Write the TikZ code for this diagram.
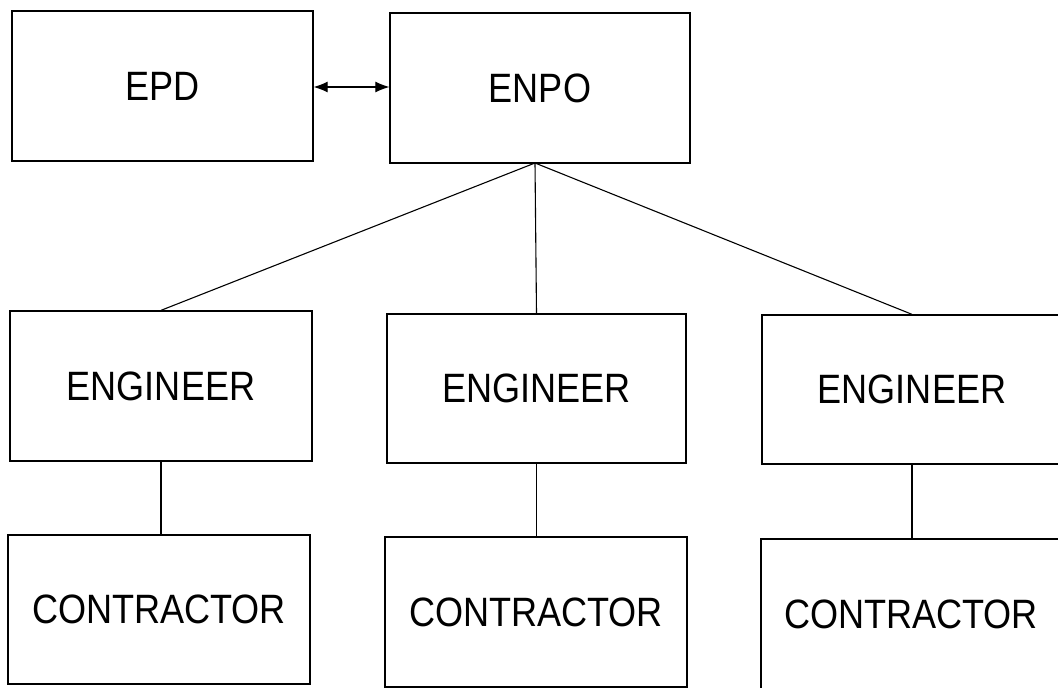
\documentclass[tikz,border=0pt]{standalone}
\usepackage{fontspec}
\setmainfont{Liberation Sans}[FakeStretch=0.88]
\usetikzlibrary{arrows.meta}
\begin{document}
\begin{tikzpicture}[x=1pt,y=1pt,
  box/.style={draw=black, line width=1.3pt, inner sep=0pt, font=\fontsize{41}{44}\selectfont},
  link/.style={draw=black, line width=1.1pt}]
\clip (0,0) rectangle (1058,-688);
\fill[white] (0,0) rectangle (1058,-688);
\node[box, minimum width=301pt, minimum height=150pt] (epd) at (162.5,-86) {EPD};
\node[box, minimum width=300pt, minimum height=150pt] (enpo) at (540,-88) {ENPO};
\node[box, minimum width=302pt, minimum height=150pt] (eng1) at (161,-386) {ENGINEER};
\node[box, minimum width=299pt, minimum height=149pt] (eng2) at (536.5,-388.5) {ENGINEER};
\node[box, minimum width=300pt, minimum height=149pt] (eng3) at (912,-389.5) {ENGINEER};
\node[box, minimum width=302pt, minimum height=149pt] (con1) at (159,-609.5) {CONTRACTOR};
\node[box, minimum width=302pt, minimum height=150pt] (con2) at (536,-612) {CONTRACTOR};
\node[box, minimum width=300pt, minimum height=150pt] (con3) at (911,-614) {CONTRACTOR};
\coordinate (hub) at (535,-163);
\draw[link, {Latex[length=14pt,width=11pt]}-{Latex[length=14pt,width=11pt]}] (epd.east |- 0,-87) -- (enpo.west |- 0,-87);
\draw[link] (hub) -- (eng1.north);
\draw[link] (hub) -- (eng2.north);
\draw[link] (hub) -- (eng3.north);
\draw[link] (eng1.south) -- (con1.north -| eng1.south);
\draw[link] (eng2.south) -- (con2.north -| eng2.south);
\draw[link] (eng3.south) -- (con3.north -| eng3.south);
\end{tikzpicture}
\end{document}
